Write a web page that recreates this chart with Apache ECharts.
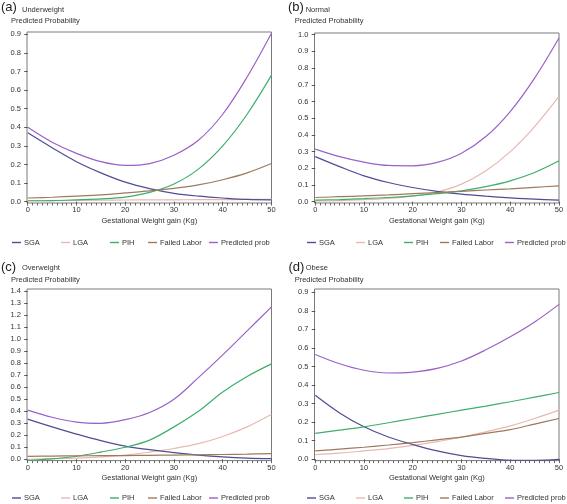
<!DOCTYPE html>
<html><head><meta charset="utf-8">
<script src="https://cdn.jsdelivr.net/npm/echarts@6/dist/echarts.min.js"></script>
<style>html,body{margin:0;padding:0;background:#fff}#c{width:567px;height:504px}</style>
</head><body><div id="c"></div>
<script>
// ---------- DATA ----------
const xGain = [0, 5, 10, 15, 20, 25, 30, 35, 40, 45, 50];
const seriesNames = ['SGA', 'LGA', 'PIH', 'Failed Labor', 'Predicted prob'];
const xTickLabels = [0, 10, 20, 30, 40, 50];
const xMinorTicks = [0,1,2,3,4,5,6,7,8,9,10,11,12,13,14,15,16,17,18,19,20,21,22,23,24,25,26,27,28,29,30,31,32,33,34,35,36,37,38,39,40,41,42,43,44,45,46,47,48,49,50];
const yTicksA = [0, 0.1, 0.2, 0.3, 0.4, 0.5, 0.6, 0.7, 0.8, 0.9];
const yTicksB = [0, 0.1, 0.2, 0.3, 0.4, 0.5, 0.6, 0.7, 0.8, 0.9, 1.0];
const yTicksC = [0, 0.1, 0.2, 0.3, 0.4, 0.5, 0.6, 0.7, 0.8, 0.9, 1.0, 1.1, 1.2, 1.3, 1.4];
const yTicksD = [0, 0.1, 0.2, 0.3, 0.4, 0.5, 0.6, 0.7, 0.8, 0.9];

// (a) Underweight
const aSGA    = [0.37, 0.29, 0.215, 0.155, 0.105, 0.07, 0.045, 0.03, 0.02, 0.012, 0.01];
const aLGA    = [0.005, 0.006, 0.007, 0.008, 0.009, 0.01, 0.01, 0.011, 0.011, 0.012, 0.012];
const aPIH    = [0.005, 0.006, 0.01, 0.015, 0.025, 0.05, 0.095, 0.175, 0.30, 0.47, 0.68];
const aFailed = [0.02, 0.024, 0.03, 0.037, 0.047, 0.058, 0.072, 0.09, 0.118, 0.155, 0.205];
const aPred   = [0.40, 0.32, 0.26, 0.215, 0.195, 0.205, 0.25, 0.33, 0.47, 0.67, 0.905];
// (b) Normal
const bSGA    = [0.27, 0.21, 0.155, 0.115, 0.085, 0.062, 0.045, 0.033, 0.023, 0.015, 0.01];
const bLGA    = [0.005, 0.007, 0.012, 0.02, 0.033, 0.058, 0.105, 0.185, 0.30, 0.45, 0.63];
const bPIH    = [0.01, 0.013, 0.018, 0.025, 0.035, 0.048, 0.065, 0.09, 0.125, 0.175, 0.245];
const bFailed = [0.025, 0.03, 0.035, 0.041, 0.048, 0.055, 0.062, 0.07, 0.077, 0.086, 0.095];
const bPred   = [0.315, 0.27, 0.237, 0.217, 0.215, 0.235, 0.29, 0.39, 0.54, 0.74, 0.98];
// (c) Overweight
const cSGA    = [0.335, 0.27, 0.21, 0.155, 0.11, 0.08, 0.055, 0.035, 0.02, 0.01, 0.005];
const cLGA    = [0.0, 0.005, 0.01, 0.02, 0.035, 0.06, 0.09, 0.13, 0.19, 0.27, 0.375];
const cPIH    = [-0.01, 0.003, 0.025, 0.06, 0.10, 0.16, 0.27, 0.40, 0.56, 0.69, 0.795];
const cFailed = [0.025, 0.027, 0.029, 0.03, 0.031, 0.033, 0.035, 0.037, 0.04, 0.043, 0.047];
const cPred   = [0.41, 0.35, 0.31, 0.30, 0.33, 0.39, 0.50, 0.68, 0.87, 1.07, 1.27];
// (d) Obese
const dSGA    = [0.345, 0.25, 0.175, 0.12, 0.08, 0.045, 0.02, 0.005, -0.005, -0.005, 0.0];
const dLGA    = [0.025, 0.033, 0.045, 0.058, 0.075, 0.095, 0.12, 0.148, 0.18, 0.22, 0.265];
const dPIH    = [0.14, 0.157, 0.175, 0.197, 0.22, 0.242, 0.265, 0.287, 0.31, 0.335, 0.36];
const dFailed = [0.045, 0.055, 0.065, 0.077, 0.09, 0.105, 0.12, 0.14, 0.16, 0.19, 0.22];
const dPred   = [0.565, 0.515, 0.48, 0.465, 0.47, 0.49, 0.53, 0.59, 0.66, 0.74, 0.835];

// ---------- STYLE / LAYOUT ----------
const colors = ['#4f4d93', '#e8b8b1', '#3fae6d', '#9e7a5c', '#9a62c8'];
const FONT = '"Liberation Sans", Arial, sans-serif';
const TXT = '#333';
const FS = 7.5;

const panels = [
  { tag: '(a)', sub: 'Underweight', series: [aSGA, aLGA, aPIH, aFailed, aPred], yTicks: yTicksA,
    grid: { left: 27, top: 32, width: 244.5, height: 171 }, ymin: -0.007, ymax: 0.912,
    tagPos: [1, 0.5], subPos: [22, 5.5], yNamePos: [11, 16.5], legendY: 238.5, legendX: [12, 61, 110, 148, 209] },
  { tag: '(b)', sub: 'Normal', series: [bSGA, bLGA, bPIH, bFailed, bPred], yTicks: yTicksB,
    grid: { left: 314.5, top: 33, width: 244.5, height: 170 }, ymin: -0.0078, ymax: 1.0102,
    tagPos: [288, 0.5], subPos: [305.7, 5.5], yNamePos: [294.7, 16.5], legendY: 238.5, legendX: [307, 356, 404, 440, 505] },
  { tag: '(c)', sub: 'Overweight', series: [cSGA, cLGA, cPIH, cFailed, cPred], yTicks: yTicksC,
    grid: { left: 27, top: 289, width: 244.5, height: 171.6 }, ymin: -0.011, ymax: 1.419,
    tagPos: [1, 260], subPos: [22, 263.5], yNamePos: [11, 275], legendY: 494, legendX: [12, 61, 110, 148, 209] },
  { tag: '(d)', sub: 'Obese', series: [dSGA, dLGA, dPIH, dFailed, dPred], yTicks: yTicksD,
    grid: { left: 314.5, top: 289, width: 244.5, height: 171.6 }, ymin: -0.007, ymax: 0.9178,
    tagPos: [288.5, 260], subPos: [305.7, 263.5], yNamePos: [294.7, 275], legendY: 494, legendX: [307, 356, 404, 440, 505] }
];

const option = {
  animation: false,
  backgroundColor: '#fff',
  textStyle: { fontFamily: FONT },
  title: [], grid: [], xAxis: [], yAxis: [], series: [], legend: []
};

panels.forEach((p, i) => {
  option.title.push({ text: p.tag, left: p.tagPos[0], top: p.tagPos[1], padding: 0,
    textStyle: { fontSize: 13, fontWeight: 'normal', color: '#222', fontFamily: FONT, lineHeight: 14 } });
  option.title.push({ text: p.sub, left: p.subPos[0], top: p.subPos[1], padding: 0,
    textStyle: { fontSize: FS, fontWeight: 'normal', color: TXT, fontFamily: FONT, lineHeight: 9 } });
  option.title.push({ text: 'Predicted Probability', left: p.yNamePos[0], top: p.yNamePos[1], padding: 0,
    textStyle: { fontSize: FS, fontWeight: 'normal', color: TXT, fontFamily: FONT, lineHeight: 9 } });

  option.grid.push(Object.assign({ show: true, borderColor: '#7a7a7a', borderWidth: 1, backgroundColor: 'transparent', containLabel: false }, p.grid));

  // main x axis
  option.xAxis.push({
    type: 'value', gridIndex: i, min: -0.15, max: 50, position: 'bottom',
    name: 'Gestational Weight gain (Kg)', nameLocation: 'middle', nameGap: 13.5,
    nameTextStyle: { fontSize: FS, color: TXT, fontFamily: FONT },
    axisLine: { show: false },
    axisTick: { show: true, length: 3.5, customValues: xTickLabels, lineStyle: { color: '#555' } },
    axisLabel: { fontSize: FS, color: TXT, margin: 3, customValues: xTickLabels, fontFamily: FONT },
    splitLine: { show: false }
  });
  // minor ticks x axis
  option.xAxis.push({
    type: 'value', gridIndex: i, min: -0.15, max: 50, position: 'bottom',
    axisLine: { show: false },
    axisTick: { show: true, length: 2.5, customValues: xMinorTicks, lineStyle: { color: '#666' } },
    axisLabel: { show: false },
    splitLine: { show: false }
  });
  option.yAxis.push({
    type: 'value', gridIndex: i, min: p.ymin, max: p.ymax,
    axisLine: { show: false },
    axisTick: { show: true, length: 3.5, customValues: p.yTicks, lineStyle: { color: '#555' } },
    axisLabel: { fontSize: FS, color: TXT, margin: 6, customValues: p.yTicks, fontFamily: FONT,
      formatter: v => v.toFixed(1) },
    splitLine: { show: false }
  });

  p.series.forEach((vals, k) => {
    option.series.push({
      name: seriesNames[k], type: 'line', xAxisIndex: i * 2, yAxisIndex: i,
      data: xGain.map((x, j) => [x, vals[j]]),
      smooth: 0.35, showSymbol: false, symbol: 'none', clip: false,
      color: colors[k],
      lineStyle: { width: 1.2, color: colors[k] },
      z: k === 1 ? 1 : 2
    });
  });

  seriesNames.forEach((n, k) => {
    option.legend.push({
      data: [n], left: p.legendX[k], top: p.legendY, padding: 0,
      icon: 'rect', itemWidth: 9, itemHeight: 1.4, itemGap: 0,
      selectedMode: false,
      textStyle: { fontSize: FS, color: TXT, fontFamily: FONT, padding: [0, 0, 0, -2] }
    });
  });
});

const chart = echarts.init(document.getElementById('c'), null, { renderer: 'canvas' });
chart.setOption(option);
</script>
</body></html>
